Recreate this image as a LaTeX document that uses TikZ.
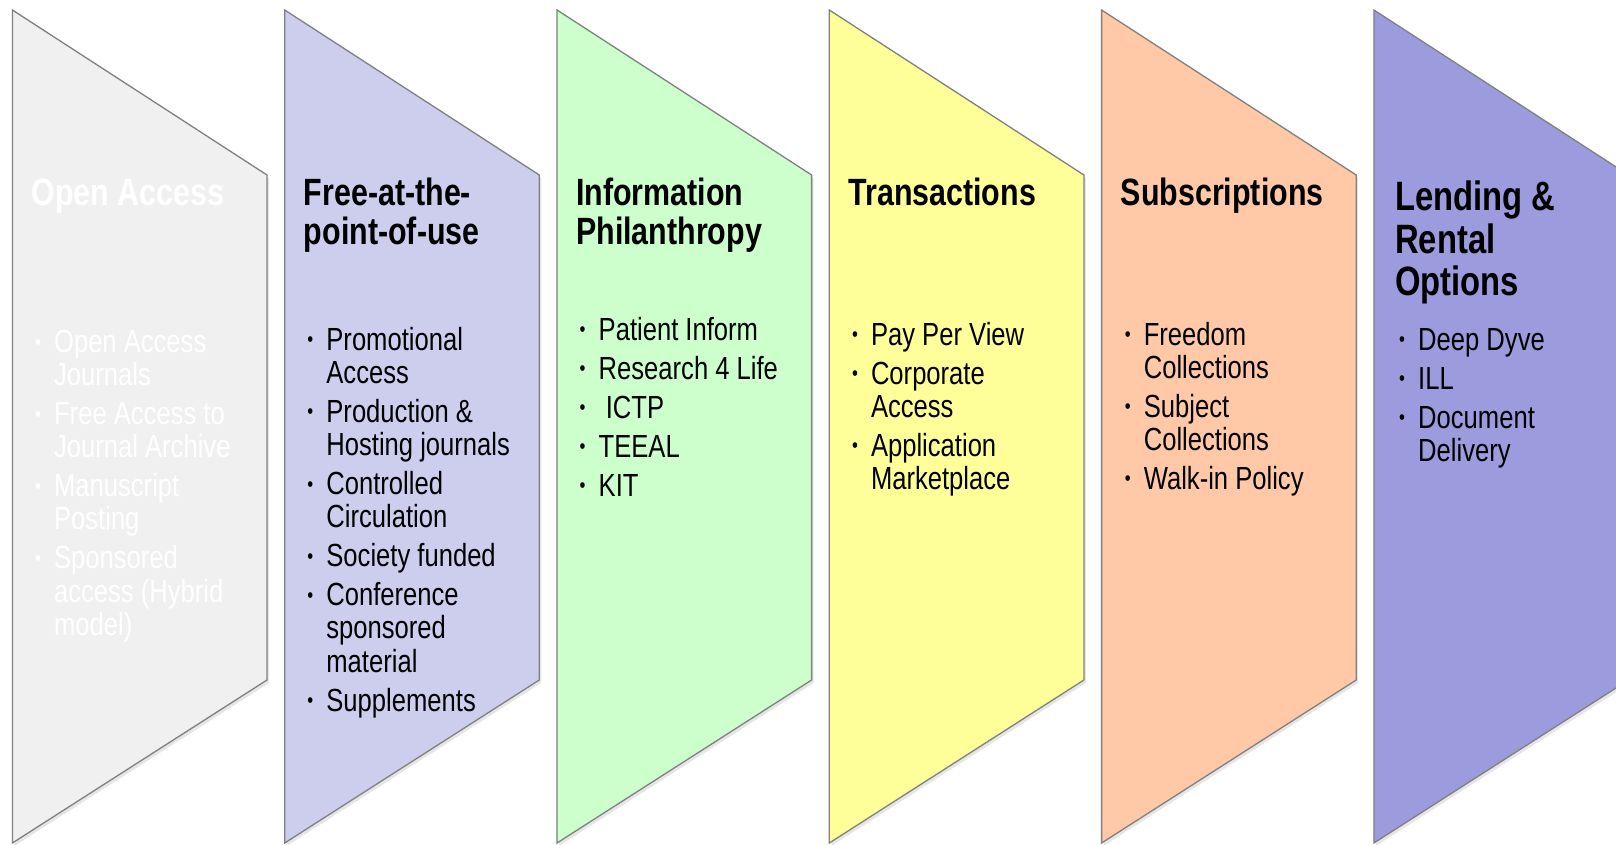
\documentclass[tikz,border=0pt]{standalone}
\usepackage{fontspec}
\setmainfont{Liberation Sans}[FakeStretch=0.8]
\usetikzlibrary{shadows}

\definecolor{oagrey}{HTML}{F0F0F0}
\definecolor{freeblue}{HTML}{CDCDEE}
\definecolor{philgreen}{HTML}{CCFFCC}
\definecolor{transyellow}{HTML}{FFFF99}
\definecolor{subpeach}{HTML}{FFC8A6}
\definecolor{lendblue}{HTML}{9B9BDD}

\tikzset{
  band/.style={draw=black!50, line width=1.3pt,
    drop shadow={shadow xshift=2pt, shadow yshift=-3pt, opacity=0.2}},
  title/.style={anchor=base west, inner sep=0pt, font=\fontsize{38}{38}\selectfont\bfseries},
  bigtitle/.style={anchor=base west, inner sep=0pt, font=\fontsize{41}{42}\selectfont\bfseries},
  items/.style={anchor=base west, inner sep=0pt, font=\fontsize{32}{33}\selectfont},
}

% one band of the row: left edge, fill
\newcommand{\Band}[2]{%
  \draw[band,fill=#2] (#1,10) -- ++(254.6,165) -- ++(0,505) -- (#1,843) -- cycle;}
\newcommand{\bul}{\makebox[20pt][l]{\hspace{1pt}\raisebox{3.5pt}{\fontsize{21}{21}\selectfont\textbullet}}}

\begin{document}
\begin{tikzpicture}[x=1pt,y=-1pt]
\useasboundingbox (0,0) rectangle (1616,845);
\clip (0,0) rectangle (1616,845);

\Band{12.4}{oagrey}
\Band{284.7}{freeblue}
\Band{557.0}{philgreen}
\Band{829.3}{transyellow}
\Band{1101.6}{subpeach}
\Band{1373.9}{lendblue}

\node[title,text=white] (open) at (31.4,206) {Open Access};
\node[items,text=white] (openlist) at (33.9,352.5) {\begin{tabular}[t]{@{}l@{}l@{}}
\bul & Open Access\\ & Journals\\[6pt]
\bul & Free Access to\\ & Journal Archive\\[6pt]
\bul & Manuscript\\ & Posting\\[6pt]
\bul & Sponsored\\ & access (Hybrid\\ & model)
\end{tabular}};

\node[title] (free) at (303.7,206) {\begin{tabular}[t]{@{}l@{}}Free-at-the-\\point-of-use\end{tabular}};
\node[items] (freelist) at (306.2,350.4) {\begin{tabular}[t]{@{}l@{}l@{}}
\bul & Promotional\\ & Access\\[6pt]
\bul & Production \&\\ & Hosting journals\\[6pt]
\bul & Controlled\\ & Circulation\\[6pt]
\bul & Society funded\\[6pt]
\bul & Conference\\ & sponsored\\ & material\\[6pt]
\bul & Supplements
\end{tabular}};

\node[title] (phil) at (576,206) {\begin{tabular}[t]{@{}l@{}}Information\\Philanthropy\end{tabular}};
\node[items] (phillist) at (578.5,340) {\begin{tabular}[t]{@{}l@{}l@{}}
\bul & Patient Inform\\[6pt]
\bul & Research 4 Life\\[6pt]
\bul & ~ICTP\\[6pt]
\bul & TEEAL\\[6pt]
\bul & KIT
\end{tabular}};

\node[title] (trans) at (848.3,206) {Transactions};
\node[items] (translist) at (850.8,345) {\begin{tabular}[t]{@{}l@{}l@{}}
\bul & Pay Per View\\[6pt]
\bul & Corporate\\ & Access\\[6pt]
\bul & Application\\ & Marketplace
\end{tabular}};

\node[title] (subs) at (1120.6,206) {Subscriptions};
\node[items] (subslist) at (1123.6,345) {\begin{tabular}[t]{@{}l@{}l@{}}
\bul & Freedom\\ & Collections\\[6pt]
\bul & Subject\\ & Collections\\[6pt]
\bul & Walk-in Policy
\end{tabular}};

\node[bigtitle] (lend) at (1395,211) {\begin{tabular}[t]{@{}l@{}}Lending \&\\Rental\\Options\end{tabular}};
\node[items] (lendlist) at (1398,350.4) {\begin{tabular}[t]{@{}l@{}l@{}}
\bul & Deep Dyve\\[6pt]
\bul & ILL\\[6pt]
\bul & Document\\ & Delivery
\end{tabular}};

\end{tikzpicture}
\end{document}
